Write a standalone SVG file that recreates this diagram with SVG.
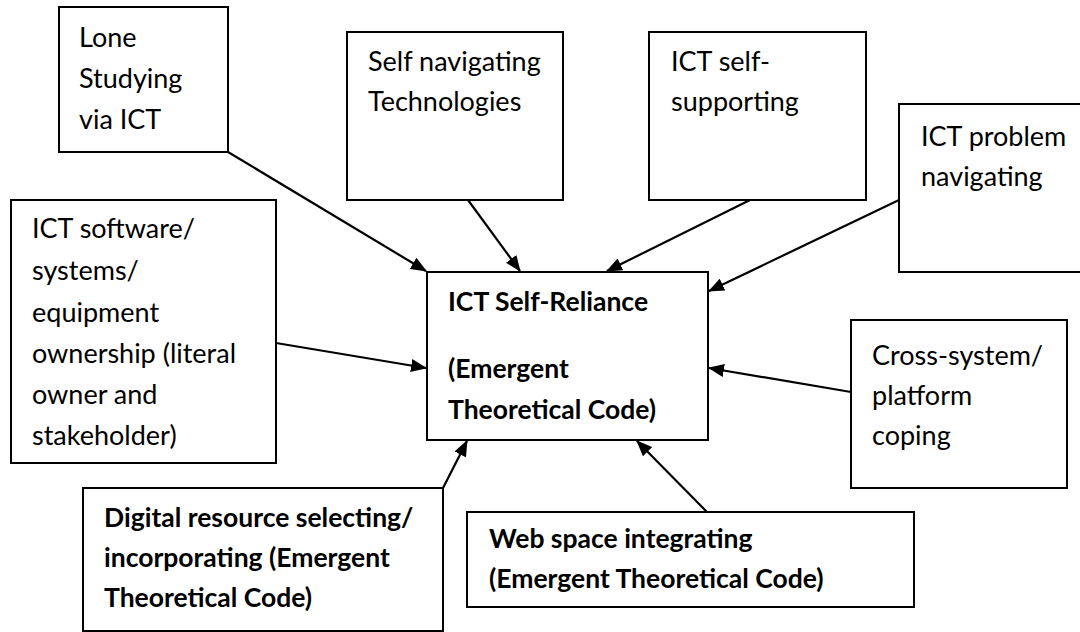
<svg xmlns="http://www.w3.org/2000/svg" width="1080" height="632" viewBox="0 0 1080 632">
<defs>
<style>
.box{fill:#fff;stroke:#000;stroke-width:2}
.t{font-family:Lato,"Liberation Sans",sans-serif;font-size:27px;fill:#000}
.b{font-weight:bold;font-size:26.5px}
.c{stroke:#000;stroke-width:2.2;fill:none;marker-end:url(#ah)}
</style>
<marker id="ah" viewBox="0 0 16 13" refX="15" refY="6.5" markerWidth="16" markerHeight="13" markerUnits="userSpaceOnUse" orient="auto">
<path d="M0,0 L16,6.5 L0,13 Z" fill="#000"/>
</marker>
</defs>
<rect width="1080" height="632" fill="#fff"/>
<g id="connectors">
<line class="c" x1="228" y1="152" x2="426" y2="271"/>
<line class="c" x1="468" y1="200" x2="520" y2="271"/>
<line class="c" x1="750" y1="200" x2="607" y2="271"/>
<line class="c" x1="899" y1="200" x2="709" y2="291"/>
<line class="c" x1="276" y1="343" x2="426" y2="368"/>
<line class="c" x1="851" y1="392" x2="709" y2="368"/>
<line class="c" x1="443" y1="488" x2="467" y2="441"/>
<line class="c" x1="707" y1="512" x2="637" y2="441"/>
</g>
<g id="lone">
<rect class="box" x="59" y="7" width="169" height="145"/>
<text class="t"><tspan x="79" y="47">Lone</tspan><tspan x="79" y="88">Studying</tspan><tspan x="79" y="129">via ICT</tspan></text>
</g>
<g id="selfnav">
<rect class="box" x="347" y="32" width="216" height="168"/>
<text class="t"><tspan x="368" y="71">Self navigating</tspan><tspan x="368" y="111">Technologies</tspan></text>
</g>
<g id="selfsupport">
<rect class="box" x="649" y="32" width="217" height="168"/>
<text class="t"><tspan x="671" y="71">ICT self-</tspan><tspan x="671" y="111">supporting</tspan></text>
</g>
<g id="problem">
<rect class="box" x="899" y="104" width="200" height="168"/>
<text class="t"><tspan x="921" y="146">ICT problem</tspan><tspan x="921" y="186">navigating</tspan></text>
</g>
<g id="ownership">
<rect class="box" x="11" y="200" width="265" height="263"/>
<text class="t"><tspan x="32" y="238">ICT software/</tspan><tspan x="32" y="280">systems/</tspan><tspan x="32" y="322">equipment</tspan><tspan x="32" y="363">ownership (literal</tspan><tspan x="32" y="404">owner and</tspan><tspan x="32" y="445">stakeholder)</tspan></text>
</g>
<g id="center">
<rect class="box" x="427" y="272" width="281" height="168"/>
<text class="t b"><tspan x="448" y="311">ICT Self-Reliance</tspan><tspan x="448" y="378">(Emergent</tspan><tspan x="448" y="419">Theoretical Code)</tspan></text>
</g>
<g id="crosssystem">
<rect class="box" x="851" y="320" width="216" height="168"/>
<text class="t"><tspan x="872" y="365">Cross-system/</tspan><tspan x="872" y="405">platform</tspan><tspan x="872" y="445">coping</tspan></text>
</g>
<g id="digital">
<rect class="box" x="83" y="488" width="360" height="143"/>
<text class="t b"><tspan x="104" y="527">Digital resource selecting/</tspan><tspan x="104" y="567">incorporating (Emergent</tspan><tspan x="104" y="607">Theoretical Code)</tspan></text>
</g>
<g id="webspace">
<rect class="box" x="467" y="512" width="447" height="95"/>
<text class="t b"><tspan x="489" y="548">Web space integrating</tspan><tspan x="489" y="588">(Emergent Theoretical Code)</tspan></text>
</g>
</svg>
